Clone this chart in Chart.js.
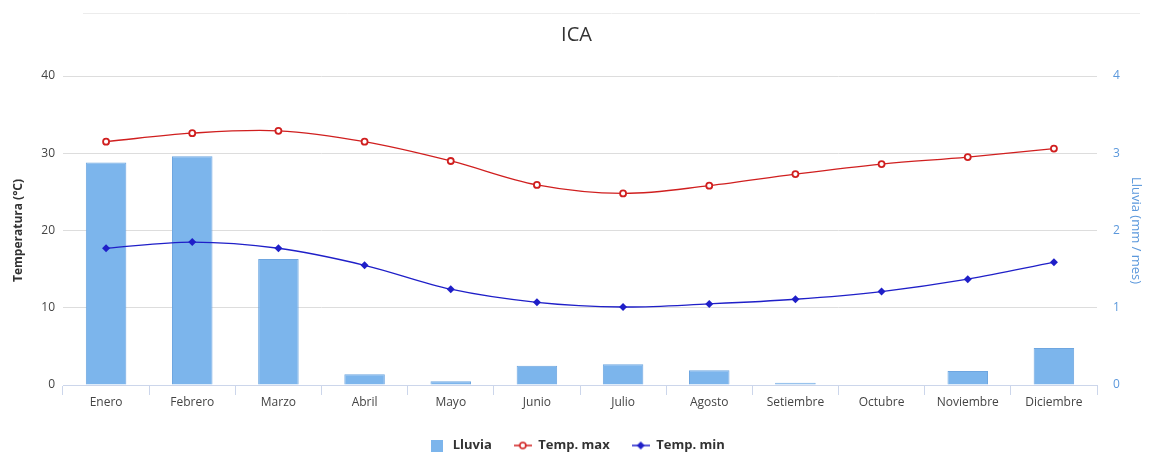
<!DOCTYPE html>
<html lang="es">
<head>
    <meta charset="UTF-8">
    <title>ICA</title>
    <script src="https://cdn.jsdelivr.net/npm/chart.js"></script>
    <style>
        body {
            margin: 0;
            background: #fff;
            font-family: "Open Sans", sans-serif;
        }
        .wrap {
            width: 1153px;
            height: 453px;
        }
    </style>
</head>
<body>
    <div class="wrap">
        <canvas id="icaChart"></canvas>
    </div>

    <script>
        // datos
        const meses = ['Enero', 'Febrero', 'Marzo', 'Abril', 'Mayo', 'Junio', 'Julio', 'Agosto', 'Setiembre', 'Octubre', 'Noviembre', 'Diciembre'];
        const lluvia = [2.88, 2.96, 1.63, 0.14, 0.05, 0.25, 0.27, 0.19, 0.03, 0, 0.18, 0.48];
        const tempMax = [31.5, 32.6, 32.9, 31.5, 29.0, 25.9, 24.8, 25.8, 27.3, 28.6, 29.5, 30.6];
        const tempMin = [17.7, 18.5, 17.7, 15.5, 12.4, 10.7, 10.1, 10.5, 11.1, 12.1, 13.7, 15.9];
        const tempTicks = [0, 10, 20, 30, 40];
        const lluviaTicks = [0, 1, 2, 3, 4];

        const azulBarra = '#7cb5ec';
        const azulEje = '#5b98dc';
        const rojo = '#d01f1f';
        const azul = '#1f1fc8';

        // iconos de la leyenda (linea + marcador)
        function iconoLinea(color, tipo) {
            const c = document.createElement('canvas');
            c.width = 18; c.height = 12;
            const g = c.getContext('2d');
            g.strokeStyle = color;
            g.lineWidth = 1.5;
            g.beginPath(); g.moveTo(0, 6); g.lineTo(18, 6); g.stroke();
            if (tipo === 'circle') {
                g.fillStyle = '#fff';
                g.lineWidth = 1.5;
                g.beginPath(); g.arc(9, 6, 3, 0, Math.PI * 2); g.fill(); g.stroke();
            } else {
                g.fillStyle = color;
                g.beginPath(); g.moveTo(9, 2); g.lineTo(13, 6); g.lineTo(9, 10); g.lineTo(5, 6); g.closePath(); g.fill();
            }
            return c;
        }
        function iconoCuadro() {
            const c = document.createElement('canvas');
            c.width = 12; c.height = 12;
            const g = c.getContext('2d');
            g.fillStyle = azulBarra;
            g.fillRect(0, 0, 12, 12);
            return c;
        }
        const iconos = [iconoCuadro(), iconoLinea(rojo, 'circle'), iconoLinea(azul, 'diamond')];

        // linea gris fina arriba
        const lineaSuperior = {
            id: 'lineaSuperior',
            beforeDraw(chart) {
                const ctx = chart.ctx;
                ctx.save();
                ctx.strokeStyle = '#ececec';
                ctx.lineWidth = 1;
                ctx.beginPath();
                ctx.moveTo(83, 13.5);
                ctx.lineTo(1140, 13.5);
                ctx.stroke();
                ctx.restore();
            }
        };

        const ctx = document.getElementById('icaChart').getContext('2d');
        new Chart(ctx, {
            type: 'bar',
            data: {
                labels: meses,
                datasets: [
                    {
                        type: 'bar',
                        label: 'Lluvia',
                        data: lluvia,
                        yAxisID: 'yLluvia',
                        backgroundColor: azulBarra,
                        borderColor: '#6ea6e0',
                        borderWidth: 1,
                        categoryPercentage: 1,
                        barPercentage: 0.47,
                        order: 3
                    },
                    {
                        type: 'line',
                        label: 'Temp. max',
                        data: tempMax,
                        yAxisID: 'yTemp',
                        borderColor: rojo,
                        borderWidth: 1.3,
                        tension: 0.35,
                        pointStyle: 'circle',
                        pointRadius: 3,
                        pointBorderWidth: 1.8,
                        pointBackgroundColor: '#fff',
                        pointBorderColor: rojo,
                        order: 1
                    },
                    {
                        type: 'line',
                        label: 'Temp. min',
                        data: tempMin,
                        yAxisID: 'yTemp',
                        borderColor: azul,
                        borderWidth: 1.3,
                        tension: 0.35,
                        pointStyle: 'rectRot',
                        pointRadius: 4,
                        pointBackgroundColor: azul,
                        pointBorderColor: azul,
                        pointBorderWidth: 0,
                        order: 2
                    }
                ]
            },
            options: {
                responsive: true,
                maintainAspectRatio: false,
                animation: false,
                layout: {
                    padding: { top: 20, right: 0, bottom: -9, left: 0 }
                },
                plugins: {
                    title: {
                        display: true,
                        text: 'ICA',
                        color: '#333333',
                        font: { family: '"Open Sans", sans-serif', size: 20, weight: 'normal' },
                        padding: { top: 3, bottom: 29 }
                    },
                    legend: {
                        position: 'bottom',
                        labels: {
                            usePointStyle: true,
                            pointStyleWidth: 18,
                            padding: 22,
                            color: '#333333',
                            font: { family: '"Open Sans", sans-serif', size: 13, weight: 'bold' },
                            generateLabels(chart) {
                                return chart.data.datasets.map((ds, i) => ({
                                    text: ds.label,
                                    pointStyle: iconos[i],
                                    fillStyle: azulBarra,
                                    strokeStyle: 'transparent',
                                    lineWidth: 0,
                                    fontColor: '#333333',
                                    hidden: !chart.isDatasetVisible(i),
                                    datasetIndex: i
                                }));
                            }
                        }
                    },
                    tooltip: { enabled: false }
                },
                scales: {
                    x: {
                        grid: {
                            display: true,
                            drawOnChartArea: false,
                            drawTicks: true,
                            tickLength: 10,
                            color: '#ccd6eb',
                            offset: true
                        },
                        border: { color: '#ccd6eb', width: 1 },
                        ticks: {
                            color: '#444444',
                            padding: 0,
                            maxRotation: 0,
                            font: { family: '"Open Sans", sans-serif', size: 12 }
                        },
                        afterFit(scale) { scale.height = 32; }
                    },
                    yTemp: {
                        position: 'left',
                        min: 0,
                        max: 40,
                        afterBuildTicks(scale) { scale.ticks = tempTicks.map(v => ({ value: v })); },
                        grid: { color: '#dddddd', drawTicks: false },
                        border: { display: false },
                        ticks: {
                            color: '#444444',
                            padding: 8,
                            font: { family: '"Open Sans", sans-serif', size: 12 }
                        },
                        title: {
                            display: true,
                            text: 'Temperatura (°C)',
                            color: '#333333',
                            font: { family: '"Open Sans", sans-serif', size: 12, weight: 'bold' },
                            padding: { top: 11, bottom: 0 }
                        },
                        afterFit(scale) { scale.width = 63; }
                    },
                    yLluvia: {
                        position: 'right',
                        min: 0,
                        max: 4,
                        afterBuildTicks(scale) { scale.ticks = lluviaTicks.map(v => ({ value: v })); },
                        grid: { drawOnChartArea: false, drawTicks: false },
                        border: { display: false },
                        ticks: {
                            color: azulEje,
                            padding: 16,
                            font: { family: '"Open Sans", sans-serif', size: 12 }
                        },
                        title: {
                            display: true,
                            text: 'Lluvia (mm / mes)',
                            color: azulEje,
                            font: { family: '"Open Sans", sans-serif', size: 13, weight: 'normal' },
                            padding: { top: 9, bottom: 0 }
                        },
                        afterFit(scale) { scale.width = 56; }
                    }
                }
            },
            plugins: [lineaSuperior]
        });
    </script>
</body>
</html>
